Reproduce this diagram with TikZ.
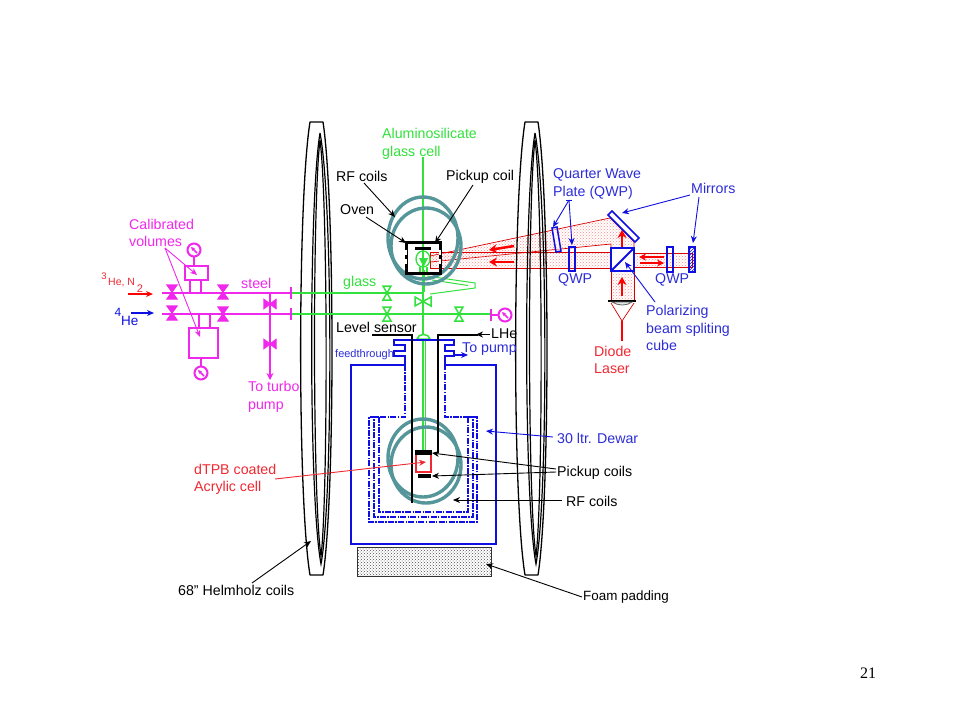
\documentclass[tikz,border=0pt]{standalone}
\usepackage{fontspec}
\setmainfont{Liberation Sans}
\usetikzlibrary{patterns,arrows.meta}
\definecolor{pinkpipe}{RGB}{240,40,235}
\definecolor{glassgreen}{RGB}{50,225,60}
\definecolor{coilteal}{RGB}{85,150,155}
\definecolor{bluetext}{RGB}{45,45,215}
\definecolor{dewarblue}{RGB}{15,15,225}
\definecolor{redtext}{RGB}{240,40,50}
\tikzset{
	lbl/.style = {anchor = west, inner sep = 0, align = left, font = \fontsize{14.2}{17.5}\selectfont},
	leader/.style = {-{Stealth[length = 7pt, width = 6pt]}, line width = 0.9},
	pipe/.style = {draw = pinkpipe, line width = 2.4},
	glasspipe/.style = {draw = glassgreen, line width = 1.7},
	coil/.style = {draw = coilteal, line width = 3.4},
	beam/.style = {draw = red!85!black, line width = 0.7, pattern = crosshatch dots, pattern color = red!45},
	dewardash/.style = {draw = dewarblue, line width = 1.5, dash pattern = on 6pt off 1.3pt on 1.5pt off 1.3pt},
	fat/.style = {-{Stealth[length = 8pt, width = 9pt]}, draw = red, line width = 2.5},
}
\begin{document}
\begin{tikzpicture}[x = 1pt, y = -1pt]
	\useasboundingbox[fill = white] (0, 0) rectangle (960, 720);
	% laser beams
	\draw[beam] (430, 256) -- (610, 218) -- (634, 242) -- (634, 248) -- (611, 248) -- (611, 244) -- (430, 262) -- cycle;
	\draw[beam] (430, 252) -- (611, 252) -- (611, 268) -- (430, 268) -- cycle;
	\draw[beam] (634, 253) rectangle (692, 267);
	\draw[beam] (611, 271) rectangle (634, 301);
	\draw[red!85!black, line width = 0.7] (611, 303) -- (622, 321) -- (634, 303);
	\draw[red, line width = 2.6] (622, 321) -- (622, 341);
	\draw[fat] (622, 296) -- (622, 277);
	\draw[fat] (622, 247) -- (622, 230);
	\draw[fat] (514, 246) -- (489, 250);
	\draw[fat] (514, 262) -- (489, 262);
	\draw[-{Stealth[length = 7pt, width = 7pt]}, draw = red, line width = 1.9] (664, 257) -- (639, 257);
	\draw[-{Stealth[length = 7pt, width = 7pt]}, draw = red, line width = 1.9] (640, 263) -- (664, 263);
	% optics
	\draw[dewarblue, line width = 1.5, fill = white, fill opacity = 0.5] (608, 215) -- (612, 211) -- (639, 238) -- (635, 242) -- cycle;
	\draw[dewarblue, line width = 1.5, fill = white, fill opacity = 0.5] (552, 228) -- (557, 227) -- (561, 251) -- (556, 252) -- cycle;
	\draw[dewarblue, line width = 1.5] (569, 247) rectangle (575, 271);
	\draw[dewarblue, line width = 1.5] (667, 247) rectangle (673, 272);
	\draw[dewarblue, line width = 1.5, pattern = north east lines, pattern color = dewarblue] (689, 247) rectangle (695, 272);
	\draw[dewarblue, line width = 1.8] (611, 248) rectangle (634, 271);
	\draw[dewarblue, line width = 2] (611, 271) -- (634, 248);
	\draw[black, line width = 1.5] (608, 301) -- (636, 301);
	\draw[black!60, line width = 0.8, fill = black!10] (612, 302) .. controls (618, 306) and (627, 306) .. (632, 302) -- cycle;
	% helmholtz coils
	\foreach \s in {0, 215} {
		\begin{scope}[xshift = \s]
			\draw[line width = 1.3, line join = round] (310, 122) .. controls (297.5, 200) and (297.5, 500) .. (310, 575) -- (323, 575) .. controls (335, 500) and (335, 200) .. (323, 122) -- cycle;
			\draw[line width = 1.2] (320, 133) .. controls (308.7, 200) and (308.7, 500) .. (321, 564) .. controls (333, 500) and (333, 200) .. (320, 133);
			\draw[line width = 1.2] (320, 140) .. controls (312.5, 200) and (312.5, 500) .. (321, 556) .. controls (328, 500) and (328, 200) .. (320, 140);
		\end{scope}
	}
	% gas handling
	\draw[pipe] (162, 293) -- (291, 293);
	\draw[pipe] (162, 314) -- (291, 314);
	\draw[pipe] (190, 280) -- (190, 292);
	\draw[pipe] (201, 280) -- (201, 292);
	\draw[pipe] (199, 315) -- (199, 328);
	\draw[pipe] (210, 315) -- (210, 328);
	\draw[pipe] (270, 294) -- (270, 358);
	\draw[pinkpipe, line width = 1.6, -{Stealth[length = 7pt, width = 7pt]}] (270, 358) -- (270, 380);
	\draw[pinkpipe, line width = 1.2] (194, 257) -- (194, 266);
	\draw[pinkpipe, line width = 1.2] (201, 358) -- (201, 366);
	\draw[pinkpipe, line width = 1.2, fill = white] (185, 266) rectangle (208, 280);
	\draw[pinkpipe, line width = 1.2, fill = white] (189, 328) rectangle (218, 358);
	\foreach \x/\y in {172/292, 172/313, 223/292, 223/314}
		\filldraw[pinkpipe, line width = 1.2] (\x-5, \y-7) -- (\x+5, \y-7) -- (\x-5, \y+7) -- (\x+5, \y+7) -- cycle;
	\foreach \x/\y in {270/304, 270/344}
		\filldraw[pinkpipe, line width = 1.2] (\x-6, \y-4.5) -- (\x+6, \y+4.5) -- (\x+6, \y-4.5) -- (\x-6, \y+4.5) -- cycle;
	\foreach \x/\y in {194/250, 201/373, 505/315} {
		\draw[pinkpipe, line width = 2] (\x, \y) circle (6.5);
		\draw[pinkpipe, line width = 1.6, -{Stealth[length = 4pt, width = 4pt]}] (\x+3, \y+3) -- (\x-3, \y-3);
	}
	\draw[pinkpipe, line width = 2.2] (291, 287) -- (291, 299);
	\draw[pinkpipe, line width = 2.2] (291, 308) -- (291, 320);
	\draw[pinkpipe, line width = 2.2] (491, 309) -- (491, 321);
	\draw[pinkpipe, line width = 1.6] (491, 315) -- (498, 315);
	% glass lines
	\draw[glasspipe] (292, 293) -- (423, 293);
	\draw[glasspipe] (292, 314) -- (490, 314);
	\draw[glasspipe] (423, 157) -- (423, 337);
	\draw[glassgreen, line width = 3] (423.5, 270) -- (423.5, 292);
	\draw[glassgreen, line width = 1] (427, 276) -- (475, 283) -- (475, 288) -- (430, 294);
	\draw[glassgreen, line width = 1] (432, 280) -- (468, 285.5);
	\draw[glassgreen, line width = 1.3] (423, 259) circle [x radius = 7, y radius = 8];
	\draw[glassgreen, line width = 1.2] (420, 267) -- (420, 272) (427, 267) -- (427, 272);
	\fill[glassgreen] (419, 258) -- (428, 258) -- (423.5, 267) -- cycle;
	\foreach \x/\y in {387/293, 387/314, 459/314}
		\draw[glassgreen, line width = 1.5] (\x-4, \y-7) -- (\x+4, \y-7) -- (\x-4, \y+7) -- (\x+4, \y+7) -- cycle;
	\draw[glassgreen, line width = 1.5] (415, 297) -- (415, 306) -- (431, 297) -- (431, 306) -- cycle;
	\draw[glassgreen, line width = 1.5, fill = white] (417, 339) .. controls (418, 333) and (429, 333) .. (430, 339) -- cycle;
	\draw[glassgreen, line width = 1.2] (423, 340) -- (423, 452);
	\draw[glassgreen, line width = 1.2] (425.8, 340) -- (425.8, 452);
	% coils and oven
	\draw[coil] (423, 238) ellipse [x radius = 35, y radius = 41];
	\draw[coil] (426, 246) ellipse [x radius = 35, y radius = 38];
	\draw[coil] (423, 458) ellipse [x radius = 35, y radius = 39];
	\draw[coil] (426, 465) ellipse [x radius = 35, y radius = 38];
	\draw[line width = 3] (406, 242) rectangle (440, 273);
	\draw[white, line width = 1.2, dash pattern = on 5pt off 4pt] (406, 250) -- (406, 268);
	\draw[white, line width = 1.2, dash pattern = on 5pt off 4pt] (440, 250) -- (440, 268);
	\draw[line width = 3] (415, 248) -- (431, 248);
	% dewar and feedthrough
	\draw[dewarblue, line width = 1.8] (405, 365) -- (351, 365) -- (351, 544) -- (496, 544) -- (496, 365) -- (445, 365);
	\draw[dewardash] (405, 365) -- (405, 417) -- (369, 417) -- (369, 522) -- (477, 522) -- (477, 417) -- (445, 417) -- (445, 365);
	\draw[dewardash] (379, 417) -- (374, 417) -- (374, 517) -- (473, 517) -- (473, 417) -- (468, 417);
	\draw[dewardash] (379, 417) -- (379, 512) -- (468, 512) -- (468, 417);
	\draw[dewarblue, line width = 2.6] (393, 340) -- (455, 340);
	\draw[dewarblue, line width = 1.5] (394, 340) -- (394, 345) -- (405, 345) -- (405, 351) -- (394, 351) -- (394, 356) -- (405, 356) -- (405, 365);
	\draw[dewarblue, line width = 1.5] (454, 340) -- (454, 345) -- (445, 345) -- (445, 351) -- (454, 351) -- (454, 356) -- (445, 356) -- (445, 365);
	\draw[dewarblue, line width = 1.5, -{Stealth[length = 7pt, width = 6pt]}] (454, 355) -- (468, 355);
	\draw[line width = 2] (372, 334.5) -- (411.5, 334.5) -- (411.5, 503);
	\draw[line width = 2] (438, 453) -- (438, 334.5) -- (478, 334.5);
	\draw[line width = 0.9, -{Stealth[length = 7pt, width = 6pt]}] (490, 334.5) -- (476, 334.5);
	% lower cell
	\draw[redtext, line width = 1.7, fill = white] (416, 454) rectangle (431, 472);
	\fill[black] (415, 450) rectangle (432, 454.5);
	\fill[black] (418, 473.5) rectangle (431, 478);
	% foam
	\draw[black!80, line width = 0.7, pattern = crosshatch dots, pattern color = black!70] (357, 547) rectangle (491, 576);
	% labels
	\node[lbl, text = glassgreen] (cellLabel) at (382, 144) {Aluminosilicate\\glass cell};
	\node[lbl] (rfUpper) at (336, 176) {RF coils};
	\node[lbl] (pickupUpper) at (446, 177) {Pickup coil};
	\node[lbl] (ovenLabel) at (340, 210) {Oven};
	\node[lbl, text = pinkpipe] (volLabel) at (129, 233) {Calibrated\\volumes};
	\node[lbl, text = redtext, font = \fontsize{10.5}{12}\selectfont] (gasA) at (108, 283) {He, N};
	\node[inner sep = 0, text = redtext, font = \fontsize{9.5}{9}\selectfont] (gasAsup) at (104, 276.5) {3};
	\node[inner sep = 0, text = redtext, font = \fontsize{11}{11}\selectfont] (gasAsub) at (140, 289) {2};
	\node[lbl, text = dewarblue, font = \fontsize{13.5}{14}\selectfont] (gasB) at (121, 321) {He};
	\node[inner sep = 0, text = dewarblue, font = \fontsize{12}{12}\selectfont] (gasBsup) at (118, 312) {4};
	\node[lbl, text = pinkpipe] (steelLabel) at (241, 283) {steel};
	\node[lbl, text = glassgreen] (glassLabel) at (343, 283) {glass};
	\node[lbl, text = pinkpipe] (turboLabel) at (248, 397) {To turbo\\pump};
	\node[lbl] (levelLabel) at (336, 327) {Level sensor};
	\node[lbl] (lheLabel) at (491, 334) {LHe};
	\node[lbl, text = bluetext, font = \fontsize{11}{12}\selectfont] (feedLabel) at (335, 355) {feedthrough};
	\node[lbl, text = bluetext] (pumpLabel) at (462, 349) {To pump};
	\node[lbl, text = bluetext] (qwpLabel) at (553, 184) {Quarter Wave\\Plate (QWP)};
	\node[lbl, text = bluetext] (mirrorLabel) at (691, 188) {Mirrors};
	\node[lbl, text = bluetext] (qwpLeft) at (558, 280) {QWP};
	\node[lbl, text = bluetext] (qwpRight) at (655, 280) {QWP};
	\node[lbl, text = bluetext] (cubeLabel) at (646, 328) {Polarizing\\beam spliting\\cube};
	\node[lbl, text = redtext] (laserLabel) at (594, 360) {Diode\\Laser};
	\node[lbl, text = bluetext] (dewarLabel) at (557, 438) {30 ltr. Dewar};
	\node[lbl] (pickupLower) at (557, 473) {Pickup coils};
	\node[lbl] (rfLower) at (566, 501) {RF coils};
	\node[lbl, text = redtext] (cellRed) at (194, 479.5) {dTPB coated\\Acrylic cell};
	\node[lbl] (helmLabel) at (178, 590) {68" Helmholz coils};
	\node[lbl, font = \fontsize{13.4}{14}\selectfont] (foamLabel) at (583, 597) {Foam padding};
	\node[inner sep = 0, font = \fontsize{16}{16}\selectfont\rmfamily] (pageNum) at (868, 673) {\setmainfont{Liberation Serif}\selectfont 21};
	% leaders
	\coordinate (rfTip) at (395, 217);
	\coordinate (ovenTip) at (406, 243);
	\coordinate (pickupTip) at (435, 243);
	\coordinate (volTipA) at (197, 275);
	\coordinate (volTipB) at (200, 337);
	\coordinate (volStart) at (165, 248);
	\coordinate (qwpStart) at (569, 200);
	\coordinate (qwpTipA) at (553, 227);
	\coordinate (qwpTipB) at (572, 245);
	\coordinate (mirrorTipA) at (622, 213);
	\coordinate (mirrorTipB) at (693, 243);
	\coordinate (cubeTip) at (625, 262);
	\coordinate (dewarTip) at (486, 431);
	\coordinate (pickupTipA) at (432, 453);
	\coordinate (pickupTipB) at (432, 476);
	\coordinate (rfTipLower) at (453, 500);
	\coordinate (cellTip) at (426, 462);
	\coordinate (helmTip) at (311, 541);
	\coordinate (foamTip) at (486, 564);
	\draw[leader] (364, 183) -- (rfTip);
	\draw[leader] (366, 217) -- (ovenTip);
	\draw[leader] (473, 185) -- (pickupTip);
	\draw[leader, pinkpipe] (volStart) -- (volTipA);
	\draw[leader, pinkpipe] (volStart) -- (volTipB);
	\draw[leader, red, line width = 1.5] (128, 294) -- (153, 294);
	\draw[leader, dewarblue, line width = 1.5] (131, 313) -- (154, 313);
	\draw[dewarblue, line width = 0.9] (566, 200) -- (572, 200);
	\draw[leader, dewarblue] (qwpStart) -- (qwpTipA);
	\draw[leader, dewarblue] (qwpStart) -- (qwpTipB);
	\draw[leader, dewarblue] (690, 195) -- (mirrorTipA);
	\draw[leader, dewarblue] (699, 197) -- (mirrorTipB);
	\draw[leader, dewarblue] (655, 302) -- (cubeTip);
	\draw[leader, dewarblue] (553, 437) -- (dewarTip);
	\draw[leader] (556, 469) -- (pickupTipA);
	\draw[leader] (556, 472) -- (pickupTipB);
	\draw[leader] (562, 500) -- (rfTipLower);
	\draw[leader, redtext] (275, 479) -- (cellTip);
	\draw[leader] (252, 583) -- (helmTip);
	\draw[leader] (582, 597) -- (foamTip);
\end{tikzpicture}
\end{document}
